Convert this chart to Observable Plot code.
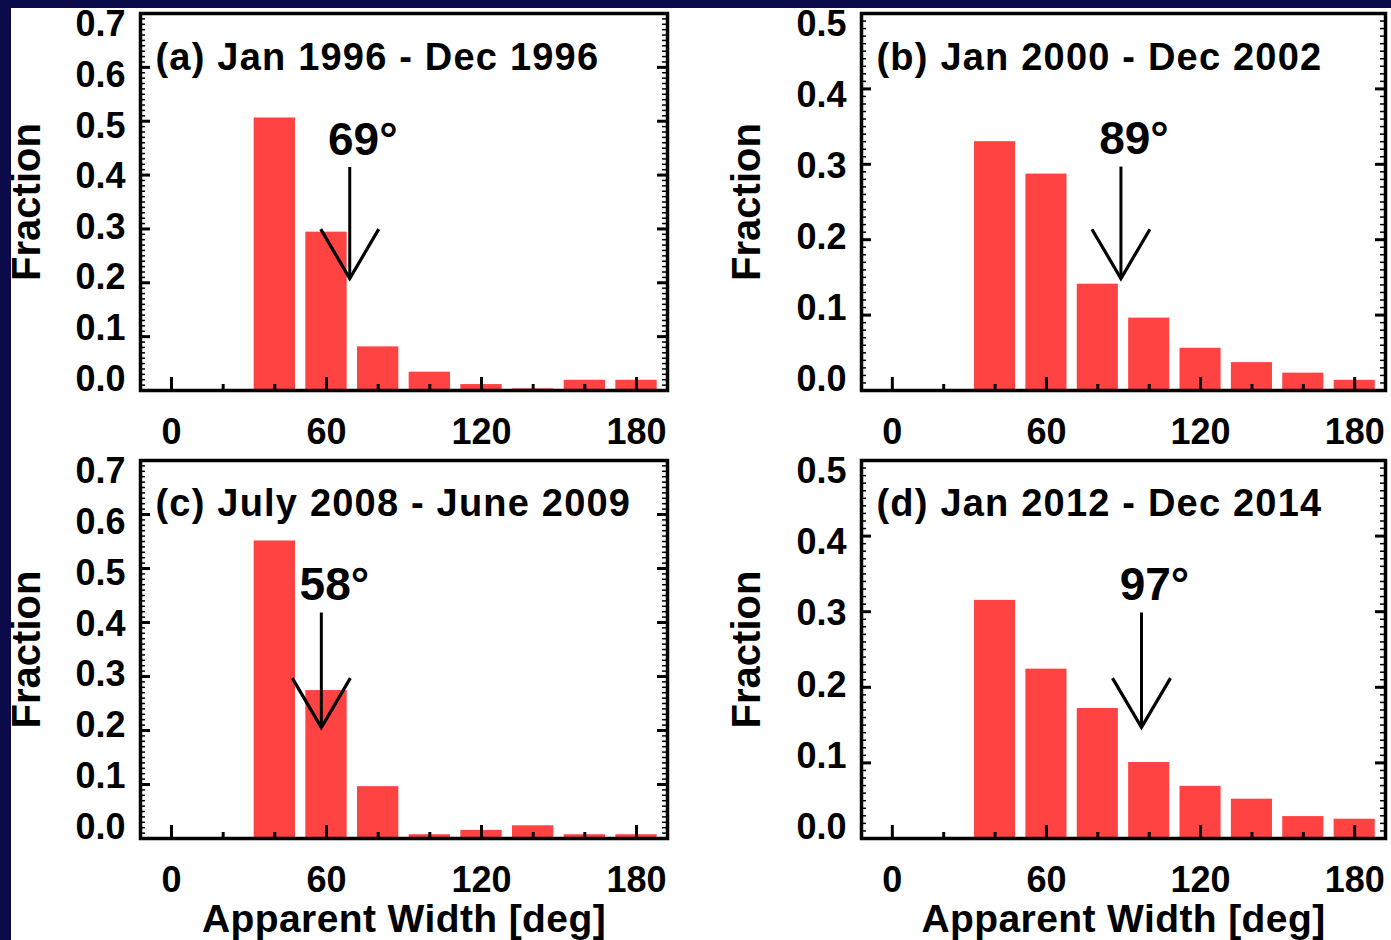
<!DOCTYPE html>
<html>
<head>
<meta charset="utf-8">
<script src="https://cdn.jsdelivr.net/npm/d3@7"></script>
<script src="https://cdn.jsdelivr.net/npm/@observablehq/plot@0.6"></script>
<style>
  html, body { margin: 0; padding: 0; background: #0b0b4b; }
  #page { position: relative; width: 1391px; height: 940px; overflow: hidden; background: #0b0b4b; }
  #white { position: absolute; left: 11px; top: 8px; width: 1380px; height: 932px; background: #ffffff; }
  .panel { position: absolute; }
  .navy { position: absolute; background: #0b0b4b; z-index: 10; }
</style>
</head>
<body>
<div id="page">
  <div id="white"></div>
  <div class="panel" id="pa" style="left:0px;top:0px"></div>
  <div class="panel" id="pb" style="left:700px;top:0px"></div>
  <div class="panel" id="pc" style="left:0px;top:448px"></div>
  <div class="panel" id="pd" style="left:700px;top:448px"></div>
  <div class="navy" style="left:0;top:0;width:1391px;height:8px"></div>
  <div class="navy" style="left:0;top:0;width:11px;height:940px"></div>
</div>
<script>
// ---------------- data ----------------
const binCenters = [40, 60, 80, 100, 120, 140, 160, 180];
const fracA = [0.506, 0.294, 0.081, 0.034, 0.011, 0.003, 0.019, 0.019];
const fracB = [0.330, 0.287, 0.141, 0.096, 0.056, 0.037, 0.023, 0.0135];
const fracC = [0.551, 0.274, 0.096, 0.007, 0.015, 0.0235, 0.007, 0.007];
const fracD = [0.315, 0.224, 0.172, 0.1005, 0.069, 0.052, 0.029, 0.0255];
const medianWidths = [69, 89, 58, 97];
const panelTitles = ["(a) Jan 1996 - Dec 1996", "(b) Jan 2000 - Dec 2002", "(c) July 2008 - June 2009", "(d) Jan 2012 - Dec 2014"];
const yMaxes = [0.7, 0.5, 0.7, 0.5];
const yTicks07 = [0, 0.1, 0.2, 0.3, 0.4, 0.5, 0.6, 0.7];
const yTicks05 = [0, 0.1, 0.2, 0.3, 0.4, 0.5];
const xTicksMajor = [0, 60, 120, 180];
const xTicksMinor = [20, 40, 80, 100, 140, 160];
const arrowTops = [0.415, 0.297, 0.4185, 0.299];
const arrowTips = [0.208, 0.1485, 0.2056, 0.147];
const yLabel = "Fraction";
const xLabel = "Apparent Width [deg]";

// ---------------- style ----------------
const FONT = "'Liberation Sans', Arial, Helvetica, sans-serif";
const barColor = "#ff4343";
const barHalfWidth = 8;
const xDomain = [-12, 192];
// the reference's tick labels sit on a slightly compressed column
const labelSqueeze = 0.94;
const labelLift = 0.03;

const vHead = {
  draw(context, size) {
    const r = Math.sqrt(size / Math.PI);
    context.moveTo(-r, -r * 1.7);
    context.lineTo(0, 0);
    context.lineTo(r, -r * 1.7);
  }
};

function panel(i, layout) {
  const {width, height, marginLeft, marginRight, marginTop, marginBottom, titleDy, yLabelDx, showXLabel} = layout;
  const values = [fracA, fracB, fracC, fracD][i];
  const ymax = yMaxes[i];
  const yTicks = ymax > 0.6 ? yTicks07 : yTicks05;
  const yMinor = d3.range(0, Math.round(ymax * 100) + 1).map(k => k / 100);
  const fw = width - marginLeft - marginRight;
  const fh = height - marginTop - marginBottom;
  const bars = binCenters.map((c, j) => ({c, v: values[j]}));
  const arrow = [{x: medianWidths[i], top: arrowTops[i], tip: arrowTips[i]}];
  const marks = [
    Plot.rectY(bars, {x1: d => d.c - barHalfWidth, x2: d => d.c + barHalfWidth, y: "v", fill: barColor}),
    Plot.tickX(xTicksMajor, {x: d => d, stroke: "black", strokeWidth: 3, insetTop: fh - 13}),
    Plot.tickX(xTicksMinor, {x: d => d, stroke: "black", strokeWidth: 3, insetTop: fh - 6}),
    Plot.tickY(yMinor, {y: d => d, stroke: "black", strokeWidth: 1.5, insetRight: fw - 5}),
    Plot.tickY(yMinor, {y: d => d, stroke: "black", strokeWidth: 1.5, insetLeft: fw - 5}),
    Plot.tickY(yTicks, {y: d => d, stroke: "black", strokeWidth: 3, insetRight: fw - 10}),
    Plot.tickY(yTicks, {y: d => d, stroke: "black", strokeWidth: 3, insetLeft: fw - 10}),
    Plot.axisX(xTicksMajor, {tickSize: 0, tickPadding: 28, fontSize: 36, fontWeight: "bold", tickFormat: d => String(d), label: null}),
    Plot.text(yTicks, {
      y: d => d * labelSqueeze + ymax * labelLift,
      frameAnchor: "left", textAnchor: "end", lineAnchor: "middle", dx: -15,
      text: d3.format(".1f"), fontSize: 36, fontWeight: "bold", fill: "black"
    }),
    Plot.frame({stroke: "black", strokeWidth: 3.5}),
    Plot.link(arrow, {x1: "x", x2: "x", y1: "top", y2: "tip", stroke: "black", strokeWidth: 3}),
    Plot.dot(arrow, {x: "x", y: "tip", symbol: vHead, r: 29, stroke: "black", strokeWidth: 3.2, fill: "none"}),
    Plot.text(arrow, {x: "x", y: "top", text: d => `${d.x}°`, fontSize: 46, fontWeight: "bold", dx: 13, dy: -27, lineAnchor: "middle", fill: "black"}),
    Plot.text([panelTitles[i]], {frameAnchor: "top-left", text: d => d, textAnchor: "start", lineAnchor: "middle", dx: 15, dy: titleDy, fontSize: 38, fontWeight: "bold", fill: "black"}),
    Plot.text([yLabel], {frameAnchor: "left", text: d => d, rotate: -90, textAnchor: "middle", lineAnchor: "middle", dx: yLabelDx, fontSize: 40, fontWeight: "bold", fill: "black"})
  ];
  if (showXLabel) {
    marks.push(Plot.text([xLabel], {frameAnchor: "bottom", text: d => d, textAnchor: "middle", lineAnchor: "middle", dy: 81, fontSize: 39, fontWeight: "bold", fill: "black"}));
  }
  const svg = Plot.plot({
    width, height, marginLeft, marginRight, marginTop, marginBottom,
    style: {background: "transparent", overflow: "visible", fontFamily: FONT, color: "black"},
    x: {domain: xDomain},
    y: {domain: [0, ymax], axis: null},
    marks
  });
  d3.select(svg).selectAll("text")
    .filter(function() { return this.textContent.startsWith("("); })
    .style("letter-spacing", "1.2px");
  d3.select(svg).selectAll("text")
    .filter(function() { return this.textContent === xLabel; })
    .style("letter-spacing", "0.4px");
  return svg;
}

document.getElementById("pa").appendChild(panel(0, {width: 700, height: 450, marginLeft: 140, marginRight: 33, marginTop: 13, marginBottom: 60, titleDy: 44, yLabelDx: -113, showXLabel: false}));
document.getElementById("pb").appendChild(panel(1, {width: 691, height: 450, marginLeft: 161, marginRight: 6, marginTop: 13, marginBottom: 60, titleDy: 44, yLabelDx: -114, showXLabel: false}));
document.getElementById("pc").appendChild(panel(2, {width: 700, height: 492, marginLeft: 140, marginRight: 33, marginTop: 12, marginBottom: 102, titleDy: 43, yLabelDx: -113, showXLabel: true}));
document.getElementById("pd").appendChild(panel(3, {width: 691, height: 492, marginLeft: 161, marginRight: 6, marginTop: 12, marginBottom: 102, titleDy: 43, yLabelDx: -114, showXLabel: true}));
</script>
</body>
</html>
